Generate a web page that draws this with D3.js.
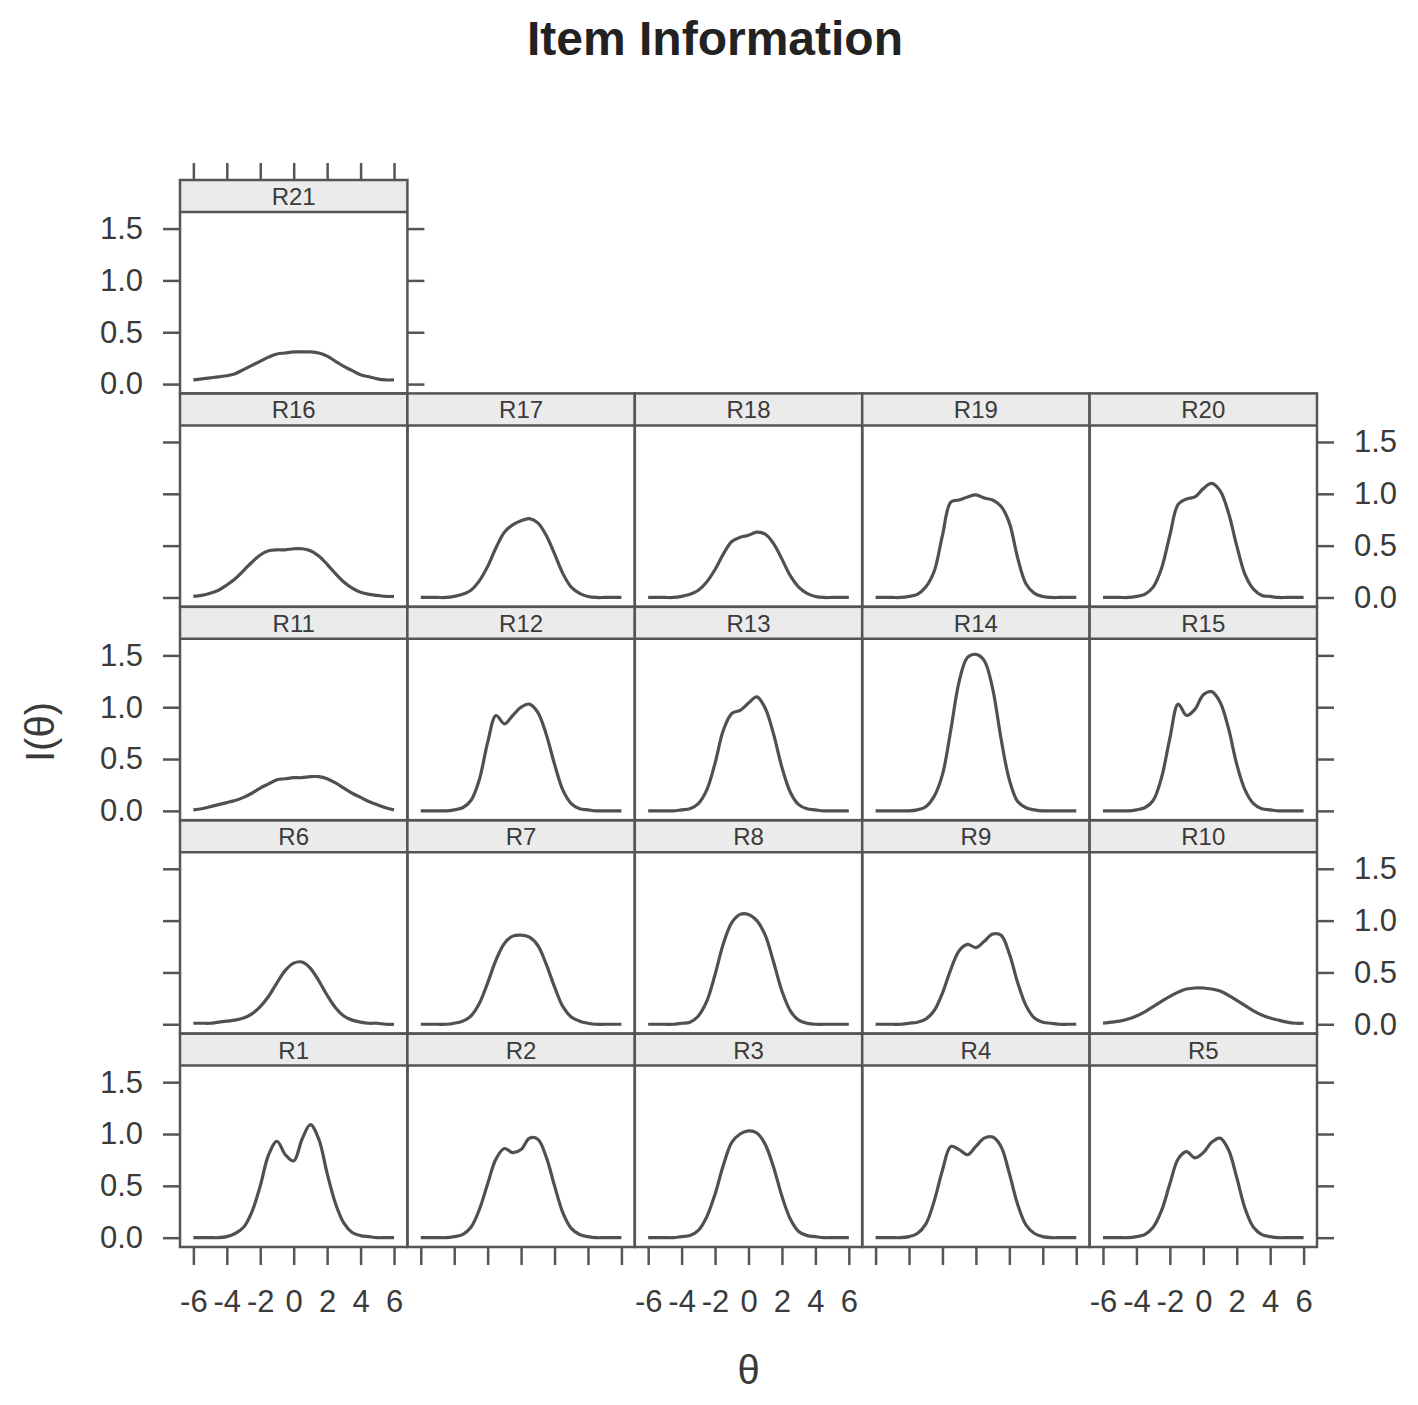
<!DOCTYPE html>
<html>
<head>
<meta charset="utf-8">
<script src="https://cdn.jsdelivr.net/npm/d3@7"></script>
<style>
  html, body { margin: 0; padding: 0; background: #ffffff; }
  svg { display: block; }
  text { font-family: "Liberation Sans", Arial, sans-serif; }
</style>
</head>
<body>
<svg id="chart" width="1418" height="1405"></svg>
<script>
// ---------- data ----------
const itemNames = ["R1","R2","R3","R4","R5","R6","R7","R8","R9","R10",
                   "R11","R12","R13","R14","R15","R16","R17","R18","R19","R20","R21"];
const thetaGrid = [-6,-5.5,-5,-4.5,-4,-3.5,-3,-2.5,-2,-1.5,-1,-0.5,0,0.5,1,1.5,2,2.5,3,3.5,4,4.5,5,5.5,6];
const xTickValues = [-6,-4,-2,0,2,4,6];
const yTickValues = [0,0.5,1,1.5];

const infoR1  = [0,0,0,0,0.01,0.04,0.10,0.25,0.50,0.80,0.93,0.80,0.74,0.95,1.09,0.95,0.62,0.33,0.14,0.05,0.02,0.01,0,0,0];
const infoR2  = [0,0,0,0,0.01,0.03,0.10,0.27,0.52,0.76,0.86,0.82,0.85,0.96,0.95,0.78,0.50,0.24,0.09,0.03,0.01,0,0,0,0];
const infoR3  = [0,0,0,0,0.01,0.02,0.07,0.20,0.42,0.70,0.92,1.00,1.03,1.01,0.90,0.68,0.40,0.18,0.06,0.02,0.01,0,0,0,0];
const infoR4  = [0,0,0,0,0.01,0.04,0.13,0.35,0.65,0.88,0.85,0.80,0.88,0.96,0.97,0.88,0.62,0.32,0.12,0.04,0.01,0,0,0,0];
const infoR5  = [0,0,0,0,0.01,0.03,0.10,0.26,0.52,0.76,0.83,0.77,0.82,0.92,0.96,0.85,0.58,0.28,0.10,0.03,0.01,0,0,0,0];
const infoR6  = [0.01,0.01,0.01,0.02,0.03,0.04,0.06,0.10,0.17,0.27,0.40,0.52,0.59,0.60,0.54,0.42,0.28,0.16,0.08,0.04,0.02,0.01,0.01,0,0];
const infoR7  = [0,0,0,0,0.01,0.03,0.08,0.20,0.40,0.62,0.78,0.85,0.86,0.84,0.76,0.58,0.36,0.17,0.07,0.03,0.01,0,0,0,0];
const infoR8  = [0,0,0,0,0.01,0.02,0.08,0.22,0.48,0.78,0.98,1.06,1.06,1.00,0.86,0.60,0.32,0.13,0.04,0.01,0,0,0,0,0];
const infoR9  = [0,0,0,0,0.01,0.02,0.05,0.13,0.30,0.53,0.71,0.77,0.74,0.80,0.87,0.86,0.68,0.40,0.18,0.06,0.02,0.01,0,0,0];
const infoR10 = [0.01,0.02,0.03,0.05,0.08,0.12,0.17,0.22,0.27,0.31,0.34,0.35,0.35,0.34,0.32,0.28,0.23,0.18,0.13,0.09,0.06,0.04,0.02,0.01,0.01];
const infoR11 = [0.01,0.02,0.04,0.06,0.08,0.10,0.13,0.17,0.22,0.26,0.30,0.31,0.32,0.32,0.33,0.33,0.31,0.27,0.22,0.17,0.13,0.09,0.06,0.03,0.01];
const infoR12 = [0,0,0,0,0.01,0.03,0.10,0.30,0.66,0.92,0.84,0.92,1.00,1.03,0.95,0.74,0.45,0.20,0.07,0.02,0.01,0,0,0,0];
const infoR13 = [0,0,0,0,0.01,0.02,0.07,0.20,0.46,0.78,0.94,0.97,1.04,1.10,0.99,0.74,0.42,0.18,0.06,0.02,0.01,0,0,0,0];
const infoR14 = [0,0,0,0,0,0.01,0.04,0.14,0.35,0.78,1.25,1.48,1.51,1.45,1.18,0.70,0.30,0.09,0.03,0.01,0,0,0,0,0];
const infoR15 = [0,0,0,0,0.01,0.03,0.10,0.32,0.70,1.03,0.92,0.98,1.12,1.15,1.05,0.80,0.45,0.20,0.07,0.02,0.01,0,0,0,0];
const infoR16 = [0.01,0.02,0.04,0.07,0.12,0.18,0.26,0.34,0.41,0.45,0.46,0.46,0.47,0.47,0.45,0.40,0.32,0.23,0.15,0.09,0.05,0.03,0.02,0.01,0.01];
const infoR17 = [0,0,0,0,0.01,0.03,0.07,0.16,0.30,0.48,0.63,0.70,0.74,0.76,0.72,0.60,0.42,0.23,0.10,0.04,0.01,0,0,0,0];
const infoR18 = [0,0,0,0,0.01,0.03,0.07,0.15,0.27,0.42,0.54,0.58,0.60,0.63,0.61,0.52,0.37,0.21,0.10,0.04,0.01,0,0,0,0];
const infoR19 = [0,0,0,0,0.01,0.03,0.10,0.25,0.60,0.92,0.94,0.97,0.99,0.96,0.94,0.88,0.72,0.38,0.13,0.04,0.01,0,0,0,0];
const infoR20 = [0,0,0,0,0.01,0.03,0.10,0.28,0.60,0.90,0.95,0.97,1.05,1.10,1.03,0.82,0.50,0.22,0.08,0.02,0.01,0,0,0,0];
const infoR21 = [0.04,0.05,0.06,0.07,0.08,0.10,0.14,0.18,0.22,0.26,0.29,0.30,0.31,0.31,0.31,0.30,0.27,0.22,0.17,0.13,0.09,0.07,0.05,0.04,0.04];

const infoSeries = [infoR1,infoR2,infoR3,infoR4,infoR5,infoR6,infoR7,infoR8,infoR9,infoR10,
                    infoR11,infoR12,infoR13,infoR14,infoR15,infoR16,infoR17,infoR18,infoR19,infoR20,infoR21];

// ---------- layout ----------
const gridLeft = 180, gridTop = 180;
const colW = 227.4, rowH = 213.4, stripH = 32;
const nCols = 5, nRows = 5;
const lineCol = "#555555", textCol = "#3a3a3a";

const svg = d3.select("#chart");
svg.append("rect").attr("width",1418).attr("height",1405).attr("fill","#fff");

const x = d3.scaleLinear().domain([-6.8, 6.8]).range([0, colW]);
const yBase = d3.scaleLinear().domain([-0.09, 1.66]).range([rowH - stripH, 0]);
const fmt = d3.format(".1f");

const line = d3.line()
  .x(d => x(d[0]))
  .y(d => yBase(d[1]))
  .curve(d3.curveCatmullRom.alpha(0.5));

function styleAxis(g, showLabels) {
  g.select(".domain").remove();
  g.selectAll(".tick line").attr("stroke", lineCol).attr("stroke-width", 2.5);
  g.selectAll(".tick text")
    .attr("fill", textCol)
    .style("font-size", "31px")
    .style("font-family", '"Liberation Sans", Arial, sans-serif');
  if (!showLabels) g.selectAll(".tick text").remove();
}

infoSeries.forEach((vals, i) => {
  const rowFromBottom = Math.floor(i / nCols);
  const col = i % nCols;
  const row = nRows - 1 - rowFromBottom;         // 0 = top row
  const px = gridLeft + col * colW;
  const py = gridTop + row * rowH;
  const g = svg.append("g").attr("transform", `translate(${px},${py})`);
  const plot = g.append("g").attr("transform", `translate(0,${stripH})`);

  // strip
  g.append("rect").attr("x",0).attr("y",0).attr("width",colW).attr("height",stripH)
    .attr("fill","#ebebeb");
  g.append("line").attr("x1",0).attr("x2",colW).attr("y1",stripH).attr("y2",stripH)
    .attr("stroke",lineCol).attr("stroke-width",2.5);
  g.append("text").attr("x", colW/2).attr("y", stripH/2 + 9)
    .attr("text-anchor","middle").attr("fill",textCol)
    .style("font-size","24px").text(itemNames[i]);

  // curve
  const pts = thetaGrid.map((t, k) => [t, vals[k]]);
  plot.append("path").attr("d", line(pts))
    .attr("fill","none").attr("stroke","#505050").attr("stroke-width",3.2)
    .attr("stroke-linejoin","round");

  // border
  g.append("rect").attr("x",0).attr("y",0).attr("width",colW).attr("height",rowH)
    .attr("fill","none").attr("stroke",lineCol).attr("stroke-width",2.5);

  const isLastInRow = (col === nCols - 1) || (i === infoSeries.length - 1);
  const labelsLeft = (row % 2 === 0);

  if (col === 0) {
    plot.append("g")
      .call(d3.axisLeft(yBase).tickValues(yTickValues).tickSize(17).tickPadding(20).tickFormat(fmt))
      .call(a => styleAxis(a, labelsLeft));
  }
  if (isLastInRow) {
    plot.append("g").attr("transform", `translate(${colW},0)`)
      .call(d3.axisRight(yBase).tickValues(yTickValues).tickSize(17).tickPadding(20).tickFormat(fmt))
      .call(a => styleAxis(a, !labelsLeft));
  }
  if (row === nRows - 1) {
    plot.append("g").attr("transform", `translate(0,${rowH - stripH})`)
      .call(d3.axisBottom(x).tickValues(xTickValues).tickSize(18).tickPadding(25).tickFormat(d3.format("d")))
      .call(a => styleAxis(a, col % 2 === 0));
  }
  if (i === infoSeries.length - 1) {
    g.append("g")
      .call(d3.axisTop(x).tickValues(xTickValues).tickSize(17).tickFormat(d3.format("d")))
      .call(a => styleAxis(a, false));
  }
});

svg.selectAll(".tick text").each(function() {
  const t = d3.select(this);
  t.text(t.text().replace("\u2212", "-"));
});

// title
svg.append("text").attr("x", 715).attr("y", 55).attr("text-anchor","middle")
  .attr("fill","#222").style("font-size","48px").style("font-weight","bold")
  .text("Item Information");

// axis labels
svg.append("text").attr("x", gridLeft + nCols*colW/2).attr("y", 1384)
  .attr("text-anchor","middle").attr("fill",textCol).style("font-size","40px")
  .text("θ");
svg.append("text").attr("transform","translate(54,732) rotate(-90)")
  .attr("text-anchor","middle").attr("fill",textCol).style("font-size","40px")
  .text("I(θ)");
</script>
</body>
</html>
